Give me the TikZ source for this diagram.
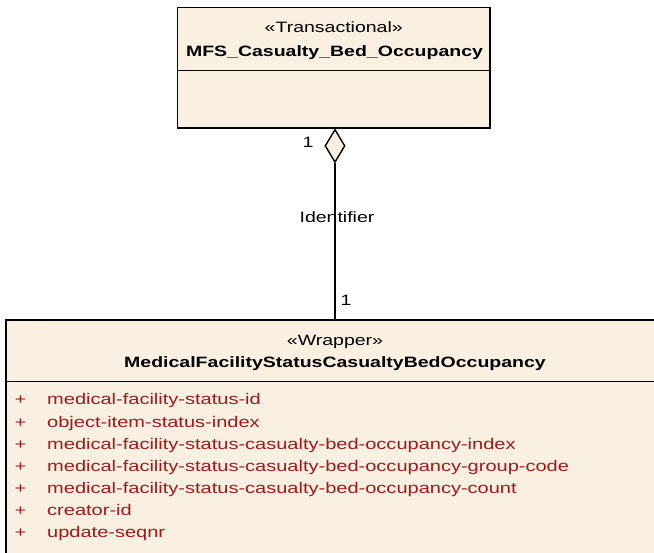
\documentclass[tikz,border=0pt]{standalone}
\usepackage{fontspec}
\setmainfont{Liberation Sans}[FakeStretch=1.3]
\usepackage{tikz}
\usetikzlibrary{positioning,shapes.geometric}
\definecolor{classF}{HTML}{FAF0E2}
\definecolor{attrR}{HTML}{A01A1A}

\begin{document}
\begin{tikzpicture}[
    x=1pt, y=-1pt,
    font=\fontsize{15}{18}\selectfont,
    cls/.style={draw=black,fill=classF,line width=1.4pt,inner sep=0pt},
    sep/.style={line width=1.4pt},
    stereo/.style={anchor=base,inner sep=0pt},
    cname/.style={anchor=base,inner sep=0pt,font=\fontsize{15}{18}\selectfont\bfseries},
    attr/.style={anchor=base west,inner sep=0pt,text=attrR,font=\fontsize{15.4}{18}\selectfont},
    vis/.style={anchor=base,inner sep=0pt,text=attrR},
    agg/.style={diamond,draw=black,fill=classF,line width=1.4pt,inner sep=0pt,
                minimum width=20pt,minimum height=33pt},
    mult/.style={anchor=base,inner sep=0pt},
]
\useasboundingbox (0,0) rectangle (654,553);

% =====================================================================
%  MFS_Casualty_Bed_Occupancy (transactional class)
% =====================================================================
\node[cls,minimum width=312.5pt,minimum height=120.5pt] (mfs) at (333.75,67.75) {};
\draw[sep] (mfs.north west) ++(0,63.5) -- ++(312.5,0);
\node[stereo] (mfsst) at (333.75,33) {«Transactional»};
\node[cname]  (mfsnm) at (334.5,56.5) {MFS\_Casualty\_Bed\_Occupancy};

% =====================================================================
%  MedicalFacilityStatusCasualtyBedOccupancy (wrapper class)
%  (box runs past the right and bottom edge of the picture)
% =====================================================================
\node[cls,minimum width=656pt,minimum height=242pt] (wrap) at (334,441) {};
\draw[sep] (wrap.north west) ++(0,62) -- ++(656,0);
\node[stereo] (wrst) at (335,346) {«Wrapper»};
\node[cname]  (wrnm) at (335,368) {MedicalFacilityStatusCasualtyBedOccupancy};

\foreach \t [count=\i] in {medical-facility-status-id,
                           object-item-status-index,
                           medical-facility-status-casualty-bed-occupancy-index,
                           medical-facility-status-casualty-bed-occupancy-group-code,
                           medical-facility-status-casualty-bed-occupancy-count,
                           creator-id,
                           update-seqnr} {
   \node[vis]  (p\i) at (20.5,{405+22.1*(\i-1)}) {+};
   \node[attr] (a\i) at (47,{405+22.1*(\i-1)}) {\t};
}

% =====================================================================
%  Aggregation "Identifier"
% =====================================================================
\node[agg,anchor=north] (dia) at (mfs.south -| 335,0) {};
\draw[line width=1.4pt] (dia.south) -- (dia.south |- wrap.north);

\node[mult] (m1) at (308,148) {1};
\node[mult] (lab) at (337,223) {Identifier};
\node[mult] (m2) at (346,306) {1};

\end{tikzpicture}
\end{document}
